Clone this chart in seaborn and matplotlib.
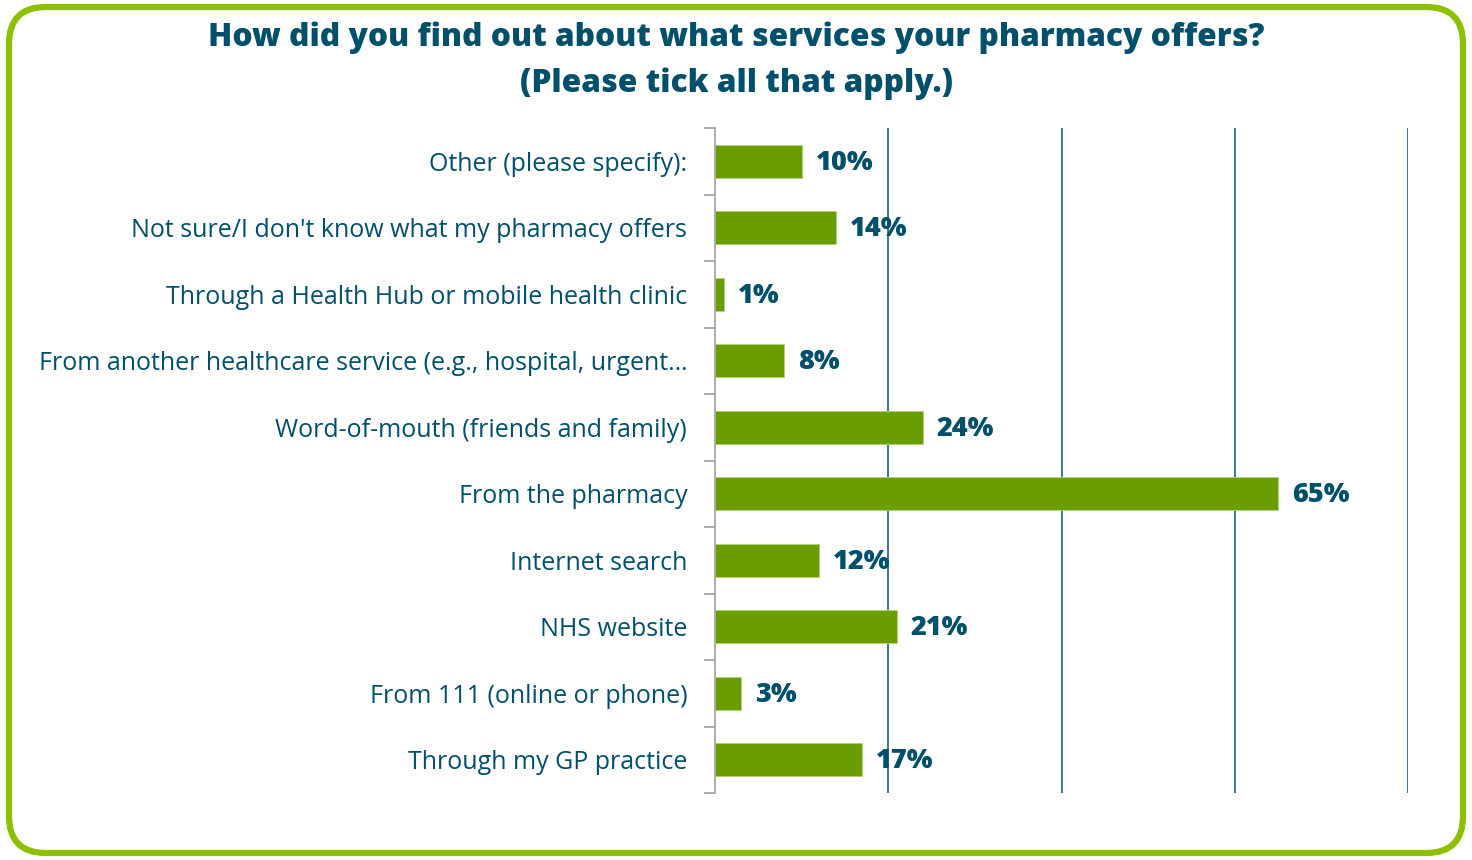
import matplotlib
matplotlib.use("Agg")
import matplotlib.pyplot as plt
import seaborn as sns
import pandas as pd
from matplotlib.patches import FancyBboxPatch
from matplotlib.ticker import FixedLocator

categories = [
    "Other (please specify):",
    "Not sure/I don't know what my pharmacy offers",
    "Through a Health Hub or mobile health clinic",
    "From another healthcare service (e.g., hospital, urgent\u2026",
    "Word-of-mouth (friends and family)",
    "From the pharmacy",
    "Internet search",
    "NHS website",
    "From 111 (online or phone)",
    "Through my GP practice",
]
values = [10, 14, 1, 8, 24, 65, 12, 21, 3, 17]
value_labels = ["10%", "14%", "1%", "8%", "24%", "65%", "12%", "21%", "3%", "17%"]
title = "How did you find out about what services your pharmacy offers?\n(Please tick all that apply.)"

BAR = "#6a9e00"
TEXT = "#004f6b"
GRID = "#1f5f80"
BORDER = "#8cc000"

sns.set_theme(style="white")
plt.rcParams["font.family"] = ["Open Sans", "DejaVu Sans"]

df = pd.DataFrame({"cat": categories, "val": values})

fig = plt.figure(figsize=(14.72, 8.6), dpi=100)
ax = fig.add_axes([715/1472, 1-793/860, (1408-715)/1472, (793-128)/860])

sns.barplot(data=df, y="cat", x="val", order=categories, color=BAR, width=0.5,
            ax=ax, saturation=1, edgecolor="#b5d27a", linewidth=0.6)

ax.set_xlim(0, 80)
ax.set_ylim(len(categories)-0.5, -0.5)
ax.set_xlabel("")
ax.set_ylabel("")
ax.set_xticks([])
for gx in [20, 40, 60, 80]:
    ax.axvline(gx, color=GRID, lw=1.2, zorder=0)

for s in ["top", "right", "bottom"]:
    ax.spines[s].set_visible(False)
ax.spines["left"].set_color("#a0a0a0")
ax.spines["left"].set_linewidth(1.2)

ax.tick_params(axis="y", which="major", length=0, pad=20, labelsize=18, labelcolor=TEXT)
ax.yaxis.set_minor_locator(FixedLocator([i - 0.5 for i in range(len(categories)+1)]))
ax.tick_params(axis="y", which="minor", length=8, width=1.2, color="#a0a0a0", left=True)

for i, (v, lab) in enumerate(zip(values, value_labels)):
    ax.annotate(lab, (v, i), xytext=(10, -1), textcoords="offset points",
                va="center", ha="left", fontsize=19.5, fontweight="heavy", color=TEXT)

fig.text(0.5, 1-61/860, title, ha="center", va="center", fontsize=22.8, fontweight="heavy",
         color=TEXT, linespacing=1.55)

border = FancyBboxPatch((9/1472, 7/860), (1463-9)/1472, (853-7)/860,
                        boxstyle="round,pad=0,rounding_size=0.025",
                        transform=fig.transFigure, fill=False, edgecolor=BORDER,
                        linewidth=4.5, mutation_aspect=1472/860)
fig.patches.append(border)

fig.savefig("out.png", dpi=100, facecolor="white")
